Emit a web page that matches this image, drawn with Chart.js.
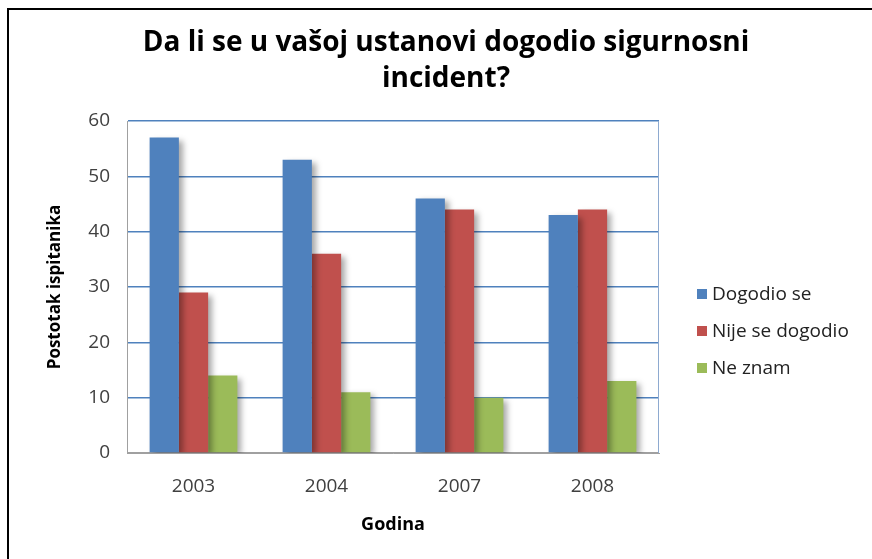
<!DOCTYPE html>
<html>
<head>
<meta charset="utf-8">
<script src="https://cdn.jsdelivr.net/npm/chart.js@4"></script>
<style>
  body { margin: 0; overflow: hidden; background: #fff; }
  #wrap { position: relative; width: 872px; height: 559px; overflow: hidden; }
  #frame { position: absolute; left: 7px; top: 8px; width: 900px; height: 600px;
           border-left: 2px solid #000; border-top: 2px solid #000; pointer-events: none; }
  canvas { position: absolute; left: 0; top: 0; }
</style>
</head>
<body>
<div id="wrap">
  <canvas id="incidentChart" width="872" height="559"></canvas>
  <div id="frame"></div>
</div>
<script>
// Data
const years = ['2003', '2004', '2007', '2008'];
const dogodioSe = [57, 53, 46, 43];
const nijeSeDogodio = [29, 36, 44, 44];
const neZnam = [14, 11, 10, 13];
const seriesNames = ['Dogodio se', 'Nije se dogodio', 'Ne znam'];
const seriesColors = ['#4F81BD', '#C0504D', '#9BBB59'];

const FONT = '"Open Sans", Lato, sans-serif';

// Soft shadow behind bars, like the Excel original
const barShadow = {
    id: 'barShadow',
    beforeDatasetsDraw(chart) {
        const ctx = chart.ctx;
        ctx.save();
        ctx.shadowColor = 'rgba(0, 0, 0, 0.35)';
        ctx.shadowBlur = 6;
        ctx.shadowOffsetX = 4;
        ctx.shadowOffsetY = 3;
    },
    afterDatasetsDraw(chart) {
        chart.ctx.restore();
    }
};

// Right edge of plot area
const plotEdge = {
    id: 'plotEdge',
    beforeDatasetsDraw(chart) {
        const { ctx, chartArea } = chart;
        ctx.save();
        ctx.strokeStyle = '#8eaad0';
        ctx.lineWidth = 1;
        ctx.beginPath();
        ctx.moveTo(chartArea.right - 0.5, chartArea.top);
        ctx.lineTo(chartArea.right - 0.5, chartArea.bottom);
        ctx.stroke();
        ctx.restore();
    }
};

// Legend drawn beside the plot, from the datasets
const sideLegend = {
    id: 'sideLegend',
    afterDraw(chart) {
        const { ctx, chartArea } = chart;
        const x = chartArea.right + 38;
        const midY = (chartArea.top + chartArea.bottom) / 2 + 44;
        const step = 37;
        ctx.save();
        ctx.font = '19px ' + FONT;
        ctx.textBaseline = 'middle';
        chart.data.datasets.forEach((ds, i) => {
            const y = midY + (i - 1) * step;
            ctx.fillStyle = ds.backgroundColor;
            ctx.fillRect(x, y - 5, 10, 10);
            ctx.fillStyle = '#222';
            ctx.fillText(ds.label, x + 15, y + 1);
        });
        ctx.restore();
    }
};

const ctx = document.getElementById('incidentChart').getContext('2d');
new Chart(ctx, {
    type: 'bar',
    data: {
        labels: years,
        datasets: [
            { label: seriesNames[0], data: dogodioSe, backgroundColor: seriesColors[0] },
            { label: seriesNames[1], data: nijeSeDogodio, backgroundColor: seriesColors[1] },
            { label: seriesNames[2], data: neZnam, backgroundColor: seriesColors[2] }
        ]
    },
    options: {
        responsive: false,
        animation: false,
        devicePixelRatio: 1,
        layout: { padding: { left: 20, right: 0, top: 0, bottom: 0 } },
        datasets: {
            bar: { categoryPercentage: 0.66, barPercentage: 1, borderWidth: 0 }
        },
        plugins: {
            legend: { display: false },
            tooltip: { enabled: false },
            title: {
                display: true,
                text: ['Da li se u vašoj ustanovi dogodio sigurnosni', 'incident?'],
                color: '#000',
                font: { family: FONT, size: 28, weight: 'bold', lineHeight: '36px' },
                padding: { top: 25, bottom: 24 }
            }
        },
        scales: {
            x: {
                grid: { display: false, drawTicks: false },
                border: { display: true, color: '#a0a0a0', width: 1 },
                ticks: { color: '#404040', font: { family: FONT, size: 19 }, padding: 22 },
                title: {
                    display: true,
                    text: 'Godina',
                    color: '#000',
                    font: { family: FONT, size: 18, weight: 'bold' },
                    padding: { top: 0, bottom: 23 }
                },
                afterFit(scale) { scale.height = 106; }
            },
            y: {
                min: 0,
                max: 60,
                ticks: { stepSize: 10, color: '#404040', font: { family: FONT, size: 19 }, padding: 17 },
                grid: {
                    drawTicks: false,
                    lineWidth: 1.5,
                    color: (c) => (c.tick && c.tick.value === 0 ? '#a0a0a0' : '#4F81BD')
                },
                border: { display: true, color: '#a0a0a0', width: 1 },
                title: {
                    display: true,
                    text: 'Postotak ispitanika',
                    color: '#000',
                    font: { family: FONT, size: 17, weight: 'bold' },
                    padding: { top: 25, bottom: 0 }
                },
                afterFit(scale) { scale.width = 107; }
            },
            // empty axis that holds the space where the legend sits
            side: {
                type: 'linear',
                position: 'right',
                grid: { display: false },
                border: { display: false },
                ticks: { display: false },
                afterFit(scale) { scale.width = 213; }
            }
        }
    },
    plugins: [plotEdge, barShadow, sideLegend]
});
</script>
</body>
</html>
